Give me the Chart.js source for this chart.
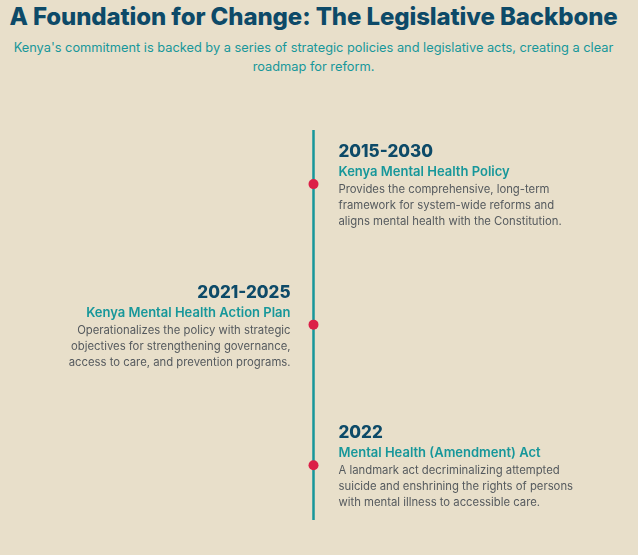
<!DOCTYPE html>
<html><head><meta charset="utf-8">
<script src="https://cdn.jsdelivr.net/npm/chart.js@4"></script>
<style>
html,body{margin:0;padding:0;background:#e8dfca;width:638px;height:555px;overflow:hidden;font-family:Inter,sans-serif}
#wrap{position:absolute;left:0;top:0;width:638px;height:555px}
h1{position:absolute;top:2px;left:0;width:627px;text-align:center;margin:0;font-size:24px;font-weight:800;color:#0d4a68;letter-spacing:-0.1px;white-space:nowrap}
p{position:absolute;top:38px;left:0;width:627px;text-align:center;margin:0;font-size:12.8px;line-height:19px;color:#17979a}
</style></head><body>
<h1>A Foundation for Change: The Legislative Backbone</h1>
<p>Kenya's commitment is backed by a series of strategic policies and legislative acts, creating a clear<br>roadmap for reform.</p>
<div id="wrap"><canvas id="c" width="638" height="555"></canvas></div>
<script>
const years = ["2015-2030", "2021-2025", "2022"];
const titles = ["Kenya Mental Health Policy", "Kenya Mental Health Action Plan", "Mental Health (Amendment) Act"];
const descriptions = [
  ["Provides the comprehensive, long-term", "framework for system-wide reforms and", "aligns mental health with the Constitution."],
  ["Operationalizes the policy with strategic", "objectives for strengthening governance,", "access to care, and prevention programs."],
  ["A landmark act decriminalizing attempted", "suicide and enshrining the rights of persons", "with mental illness to accessible care."]
];
const sides = ["right", "left", "right"];
const order = [0, 1, 2];
const yMin = -0.385, yMax = 2.39;

const textPlugin = {
  id: 'texts',
  afterDatasetsDraw(chart) {
    const ctx = chart.ctx, xs = chart.scales.x, ys = chart.scales.y;
    order.forEach((v, i) => {
      const px = xs.getPixelForValue(0), py = ys.getPixelForValue(v);
      const right = sides[i] === 'right';
      const tx = right ? px + 25 : px - 23;
      ctx.save();
      ctx.textAlign = right ? 'left' : 'right';
      ctx.textBaseline = 'alphabetic';
      ctx.fillStyle = '#0d4a68';
      ctx.font = '800 17px Inter';
      ctx.fillText(years[i], tx, py - 27);
      ctx.fillStyle = '#17979a';
      ctx.font = '600 13px Inter';
      ctx.fillText(titles[i], tx, py - 8);
      ctx.fillStyle = '#555a5e';
      ctx.font = '400 11.3px Inter';
      descriptions[i].forEach((l, k) => ctx.fillText(l, tx, py + 9 + k * 16));
      ctx.restore();
    });
  }
};

new Chart(document.getElementById('c'), {
  type: 'scatter',
  data: {
    datasets: [
      { data: order.map(v => ({x: 0, y: v})), pointRadius: 5, pointHoverRadius: 5, backgroundColor: '#dc1f47', borderColor: '#dc1f47', borderWidth: 0, order: 0 },
      { data: [{x: 0, y: yMin}, {x: 0, y: yMax}], showLine: true, borderColor: '#17979a', borderWidth: 2.5, pointRadius: 0, order: 1 }
    ]
  },
  options: {
    responsive: false, animation: false,
    layout: { padding: { top: 130, bottom: 35, left: 0, right: 16 } },
    plugins: { legend: { display: false }, tooltip: { enabled: false } },
    scales: {
      x: { display: false, min: -1, max: 1 },
      y: { display: false, min: yMin, max: yMax, reverse: true }
    }
  },
  plugins: [textPlugin]
});
</script></body></html>
